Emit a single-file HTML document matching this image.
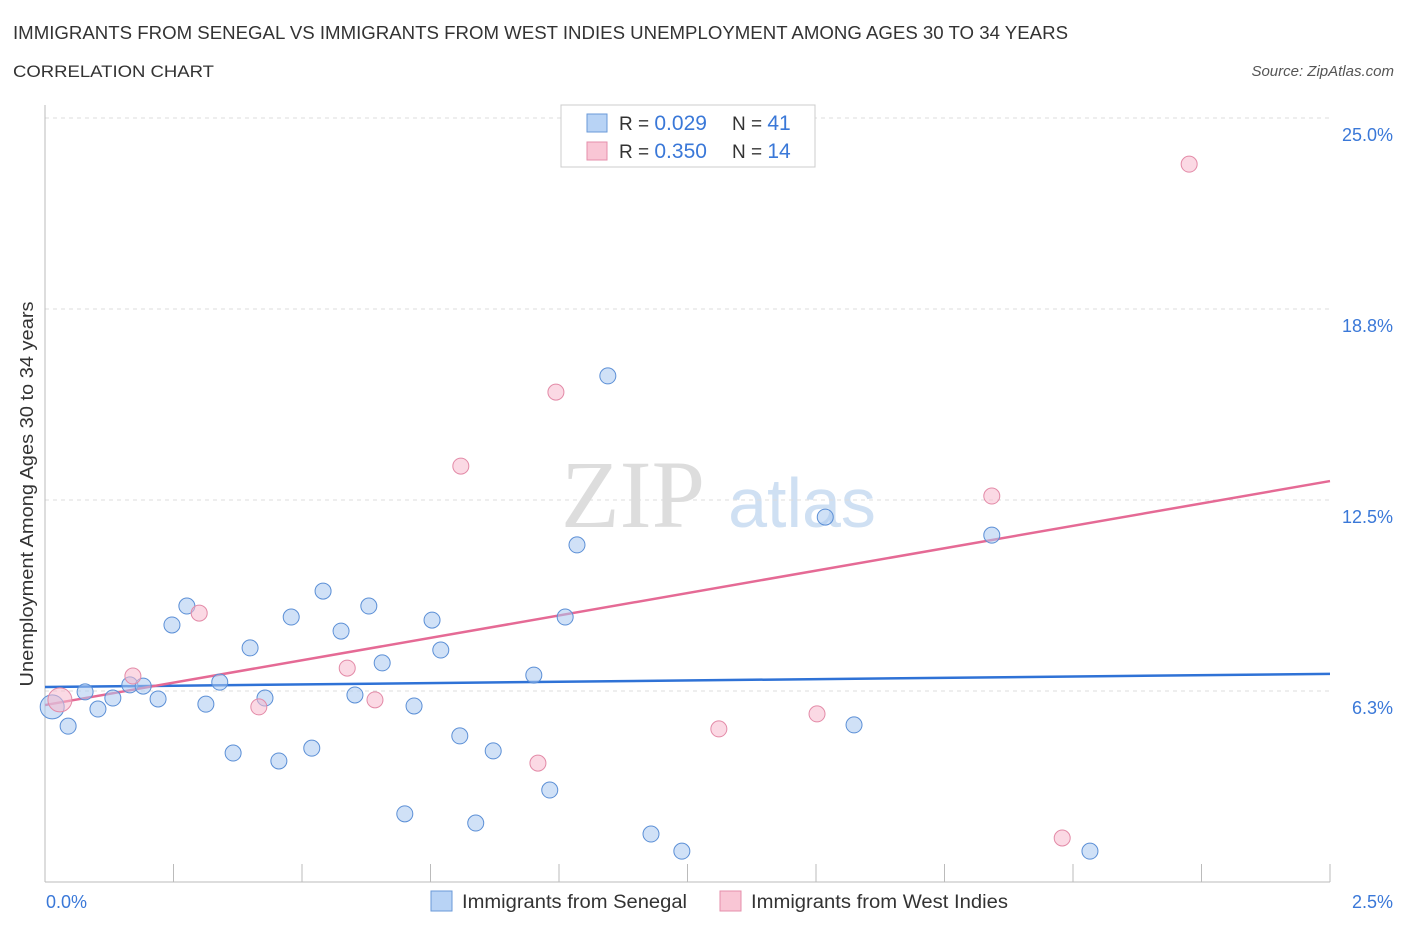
<!DOCTYPE html>
<html><head><meta charset="utf-8"><style>
body{margin:0;background:#fff;font-family:"Liberation Sans",sans-serif;}
svg{display:block}
</style></head><body>
<svg id="chart" width="1406" height="930">
<text x="13" y="39" font-size="18" fill="#333" textLength="1055" lengthAdjust="spacingAndGlyphs">IMMIGRANTS FROM SENEGAL VS IMMIGRANTS FROM WEST INDIES UNEMPLOYMENT AMONG AGES 30 TO 34 YEARS</text>
<text x="13" y="77" font-size="17" fill="#333" textLength="201" lengthAdjust="spacingAndGlyphs">CORRELATION CHART</text>
<text x="1394" y="76" font-size="15" fill="#555" font-style="italic" text-anchor="end">Source: ZipAtlas.com</text>
<g>
<text x="633" y="527" font-size="96" fill="#ddd" font-family="Liberation Serif,serif" text-anchor="middle">ZIP</text>
<text x="802" y="527" font-size="70" fill="#cfe0f3" text-anchor="middle">atlas</text>
</g>
<g id="grid"></g>
<g id="axes"></g>
<g id="lines"></g>
<g id="points"></g>
<text transform="translate(33,494) rotate(-90)" font-size="18" fill="#333" text-anchor="middle" textLength="385" lengthAdjust="spacingAndGlyphs">Unemployment Among Ages 30 to 34 years</text>
<text x="46" y="908" font-size="18" fill="#3a78d8">0.0%</text>
<text x="1393" y="908" font-size="18" fill="#3a78d8" text-anchor="end">2.5%</text>
<g>
<rect x="561" y="105" width="254" height="62" fill="#fff" stroke="#ccc"/>
<rect x="587" y="114" width="20" height="18" fill="#b8d3f5" stroke="#6a9ad8"/>
<text x="619" y="130" font-size="19" fill="#333">R = <tspan fill="#3a78d8" font-size="21">0.029</tspan></text>
<text x="732" y="130" font-size="19" fill="#333">N = <tspan fill="#3a78d8" font-size="21">41</tspan></text>
<rect x="587" y="142" width="20" height="18" fill="#f9c6d5" stroke="#e58fab"/>
<text x="619" y="158" font-size="19" fill="#333">R = <tspan fill="#3a78d8" font-size="21">0.350</tspan></text>
<text x="732" y="158" font-size="19" fill="#333">N = <tspan fill="#3a78d8" font-size="21">14</tspan></text>
</g>
<g>
<rect x="431" y="891" width="21" height="20" fill="#b8d3f5" stroke="#6a9ad8"/>
<text x="462" y="908" font-size="19" fill="#333" textLength="225" lengthAdjust="spacingAndGlyphs">Immigrants from Senegal</text>
<rect x="720" y="891" width="21" height="20" fill="#f9c6d5" stroke="#e58fab"/>
<text x="751" y="908" font-size="19" fill="#333" textLength="257" lengthAdjust="spacingAndGlyphs">Immigrants from West Indies</text>
</g>
</svg>
<script>
const yTicks=[6.25,12.5,18.75,25];
const yTickLabels=["6.3%","12.5%","18.8%","25.0%"];
const senegalX=[0.014,0.045,0.078,0.103,0.132,0.165,0.191,0.220,0.247,0.276,0.313,0.340,0.366,0.399,0.428,0.455,0.479,0.519,0.541,0.576,0.603,0.630,0.656,0.700,0.718,0.753,0.770,0.807,0.838,0.872,0.951,0.982,1.012,1.035,1.095,1.179,1.239,1.518,1.574,1.842,2.033];
const senegalY=[5.73,5.10,6.22,5.66,6.02,6.45,6.41,5.99,8.41,9.03,5.82,6.54,4.22,7.66,6.02,3.96,8.67,4.38,9.52,8.21,6.12,9.03,7.17,2.23,5.76,8.57,7.59,4.78,1.93,4.29,6.77,3.01,8.67,11.03,16.56,1.57,1.01,11.94,5.14,11.35,1.01];
const westIndiesX=[0.029,0.171,0.300,0.416,0.588,0.642,0.809,0.959,0.994,1.311,1.502,1.842,1.979,2.226];
const westIndiesY=[5.96,6.74,8.80,5.73,7.00,5.96,13.61,3.89,16.03,5.01,5.50,12.63,1.44,23.49];
const senegalTrend=[6.38,6.81];
const westIndiesTrend=[5.79,13.12];
const NS="http://www.w3.org/2000/svg";
const X0=45,X1=1330,Y0=882,Y1=118;
const xs=v=>X0+v/2.5*(X1-X0);
const ys=v=>Y0-v/25*(Y0-Y1);
function mk(tag,attrs,parent){const e=document.createElementNS(NS,tag);for(const k in attrs)e.setAttribute(k,attrs[k]);document.getElementById(parent).appendChild(e);return e;}
yTicks.forEach((t,i)=>{
 const l=mk('line',{x1:X0,x2:X1,y1:ys(t),y2:ys(t),stroke:'#ddd','stroke-dasharray':'4,4'},'grid');
 
 
 const tx=mk('text',{x:1393,y:ys(t)+23,'font-size':18,fill:'#3a78d8','text-anchor':'end'},'grid');
 tx.textContent=yTickLabels[i];
 
 
});
const ax=mk('line',{x1:X0,x2:X1,y1:Y0,y2:Y0,stroke:'#bbb'},'axes');


const ay=mk('line',{x1:X0,x2:X0,y1:105,y2:Y0,stroke:'#bbb'},'axes');


for(let i=0;i<=10;i++){const v=i*0.25;
 const t=mk('line',{x1:xs(v),x2:xs(v),y1:864,y2:Y0,stroke:'#bbb'},'axes');
 
 
}
function dots(X,Y,fill,stroke,name){X.forEach((x,i)=>{
 const r=i===0?12:8;
 const c=mk('circle',{cx:xs(x),cy:ys(Y[i]),r:r,fill:fill,stroke:stroke,'stroke-width':1},'points');
 
 
});}
dots(senegalX,senegalY,'rgba(170,200,240,0.55)','#5b8fd6','senegal-point');
dots(westIndiesX,westIndiesY,'rgba(248,185,205,0.55)','#e38aa7','west-indies-point');
const bl=mk('line',{x1:xs(0),x2:xs(2.5),y1:ys(senegalTrend[0]),y2:ys(senegalTrend[1]),stroke:'#2f72d6','stroke-width':2.5},'lines');


const pl=mk('line',{x1:xs(0),x2:xs(2.5),y1:ys(westIndiesTrend[0]),y2:ys(westIndiesTrend[1]),stroke:'#e56a95','stroke-width':2.5},'lines');


</script>
</body></html>
